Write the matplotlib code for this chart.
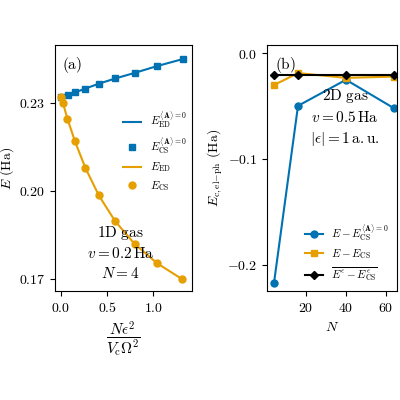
import matplotlib
matplotlib.use("Agg")
import matplotlib.pyplot as plt

plt.rcParams['mathtext.fontset'] = 'cm'
plt.rcParams['font.family'] = 'serif'
plt.rcParams['font.serif'] = ['DejaVu Serif']
plt.rcParams['font.size'] = 10
plt.rcParams['axes.formatter.use_mathtext'] = True

blue = "#0072B2"
orange = "#E69F00"

# panel (a)
x_a0 = [0, 0.076, 0.152, 0.26, 0.41, 0.59, 0.80, 1.04, 1.32]
e_a0 = [0.2318, 0.2326, 0.2335, 0.2348, 0.2365, 0.2383, 0.2402, 0.2425, 0.2449]
x_e = [0, 0.022, 0.069, 0.152, 0.264, 0.41, 0.587, 0.797, 1.04, 1.315]
e_e = [0.2318, 0.2299, 0.2246, 0.2168, 0.2078, 0.1984, 0.1896, 0.1819, 0.1753, 0.1698]

# panel (b)
N = [4, 16, 40, 64]
d_a0 = [-0.2174, -0.0497, -0.025, -0.052]
d_cs = [-0.030, -0.0187, -0.0232, -0.022]
d_bar = [-0.0206, -0.0206, -0.0206, -0.0206]

fig = plt.figure(figsize=(4, 4), dpi=100)
ax1 = fig.add_axes([0.1375, 0.2725, 0.3425, 0.615])
ax2 = fig.add_axes([0.6675, 0.2725, 0.325, 0.615])

ax1.plot(x_a0, e_a0, color=blue, lw=1.5, label=r'$E_{\rm ED}^{\langle \mathbf{A}\rangle=0}$')
ax1.plot(x_a0, e_a0, 's', color=blue, ms=4.5, ls='none', label=r'$E_{\rm CS}^{\langle \mathbf{A}\rangle=0}$')
ax1.plot(x_e, e_e, color=orange, lw=1.5, label=r'$E_{\rm ED}$')
ax1.plot(x_e, e_e, 'o', color=orange, ms=5, ls='none', label=r'$E_{\rm CS}$')
ax1.set_xlim(-0.065, 1.42)
ax1.set_ylim(0.1658, 0.2497)
ax1.set_xticks([0, 0.5, 1.0])
ax1.set_xticklabels([r'$0.0$', r'$0.5$', r'$1.0$'])
ax1.set_yticks([0.17, 0.20, 0.23])
ax1.set_yticklabels([r'$0.17$', r'$0.20$', r'$0.23$'])
ax1.set_ylabel(r'$E\ (\mathrm{Ha})$', labelpad=2)
ax1.set_xlabel(r'$\dfrac{N\epsilon^2}{V_{\rm c}\Omega^2}$', fontsize=11)
ax1.legend(loc='center right', bbox_to_anchor=(1.02, 0.57), frameon=False,
           fontsize=8, handlelength=1.6, borderpad=0.2, labelspacing=0.4)
ax1.text(0.05, 0.96, r'$\mathrm{(a)}$', transform=ax1.transAxes, va='top', fontsize=11)
ax1.text(0.48, 0.04, r'$\mathrm{1D\ gas}$' + '\n' + r'$v=0.2\,\mathrm{Ha}$' + '\n' + r'$N=4$',
         transform=ax1.transAxes, ha='center', va='bottom', linespacing=1.4, fontsize=11)

ax2.plot(N, d_a0, 'o-', color=blue, ms=5, lw=1.5, label=r'$E-E_{\rm CS}^{\langle \mathbf{A}\rangle=0}$')
ax2.plot(N, d_cs, 's-', color=orange, ms=5, lw=1.5, label=r'$E-E_{\rm CS}$')
ax2.plot(N, d_bar, 'D-', color='black', ms=4.5, lw=1.5,
         label=r'$\overline{E^{\epsilon}-E_{\rm CS}^{\epsilon}}$')
ax2.set_xlim(0.5, 65.5)
ax2.set_ylim(-0.225, 0.0079)
ax2.set_xticks([20, 40, 60])
ax2.set_xticklabels([r'$20$', r'$40$', r'$60$'])
ax2.set_yticks([-0.2, -0.1, 0.0])
ax2.set_yticklabels([r'$-0.2$', r'$-0.1$', r'$0.0$'])
ax2.set_xlabel(r'$N$')
ax2.set_ylabel(r'$E_{\rm c,el\mathrm{-}ph}\ (\mathrm{Ha})$', labelpad=2)
ax2.legend(loc='lower right', frameon=False, fontsize=8, handlelength=1.6,
           borderpad=0.2, labelspacing=0.4)
ax2.text(0.06, 0.96, r'$\mathrm{(b)}$', transform=ax2.transAxes, va='top', fontsize=11)
ax2.text(0.6, 0.58, r'$\mathrm{2D\ gas}$' + '\n' + r'$v=0.5\,\mathrm{Ha}$' + '\n' + r'$|\epsilon|=1\,\mathrm{a.u.}$',
         transform=ax2.transAxes, ha='center', va='bottom', linespacing=1.4, fontsize=11)

fig.savefig('out.png', dpi=100)
